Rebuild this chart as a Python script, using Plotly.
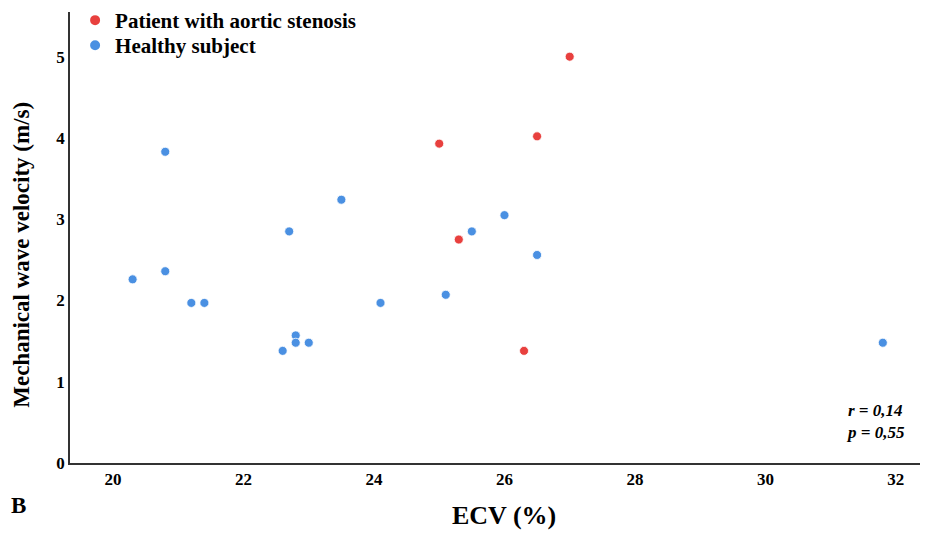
import plotly.graph_objects as go

# Patients with aortic stenosis
as_ecv = [27.0, 26.5, 25.0, 25.3, 26.3]
as_mwv = [5.0, 4.02, 3.93, 2.75, 1.38]

# Healthy subjects
hs_ecv = [20.8, 20.3, 20.8, 21.2, 21.4, 22.7, 22.6, 22.8, 22.8, 23.0, 23.5, 24.1, 25.1, 25.5, 26.0, 26.5, 31.8]
hs_mwv = [3.83, 2.26, 2.36, 1.97, 1.97, 2.85, 1.38, 1.57, 1.48, 1.48, 3.24, 1.97, 2.07, 2.85, 3.05, 2.56, 1.48]

x_ticks = [20, 22, 24, 26, 28, 30, 32]
y_ticks = [0, 1, 2, 3, 4, 5]

FONT = "Liberation Serif"
RED = "#E8403E"
BLUE = "#4A90E2"

fig = go.Figure()
fig.add_trace(go.Scatter(
    x=as_ecv, y=as_mwv, mode="markers", name="<b>Patient with aortic stenosis</b>",
    marker=dict(color=RED, size=9, line=dict(color="white", width=0.8)),
    legend="legend",
))
fig.add_trace(go.Scatter(
    x=hs_ecv, y=hs_mwv, mode="markers", name="<b>Healthy subject</b>",
    marker=dict(color=BLUE, size=9, line=dict(color="white", width=0.8)),
    legend="legend2",
))

legend_common = dict(
    xanchor="left", yanchor="top", bgcolor="rgba(0,0,0,0)",
    font=dict(family=FONT, size=21, color="black"), itemsizing="constant",
)

fig.update_layout(
    width=934, height=534,
    margin=dict(l=70, r=14, t=12, b=71, autoexpand=False),
    paper_bgcolor="white", plot_bgcolor="white",
    font=dict(family=FONT, color="black"),
    showlegend=True,
    legend=dict(x=0.006, y=1.0266, **legend_common),
    legend2=dict(x=0.006, y=0.971, **legend_common),
    xaxis=dict(
        range=[19.34, 32.37], tickvals=x_ticks,
        ticktext=[f"<b>{v}</b>" for v in x_ticks],
        showgrid=False, zeroline=False, showline=True,
        linecolor="#333333", linewidth=1.5, ticks="",
        tickfont=dict(family=FONT, size=17, color="black"),
    ),
    yaxis=dict(
        range=[0, 5.55], tickvals=y_ticks,
        ticktext=[f"<b>{v}</b>" for v in y_ticks],
        showgrid=False, zeroline=False, showline=True,
        linecolor="#333333", linewidth=1.5, ticks="",
        tickfont=dict(family=FONT, size=17, color="black"),
    ),
)

# axis titles
fig.add_annotation(
    xref="paper", yref="paper", x=0.511, y=-0.117, xanchor="center", yanchor="middle",
    text="<b>ECV (%)</b>", showarrow=False,
    font=dict(family=FONT, size=26, color="black"),
)
fig.add_annotation(
    xref="paper", yref="paper", x=-0.058, y=0.461, xanchor="center", yanchor="middle",
    text="<b>Mechanical wave velocity (m/s)</b>", showarrow=False, textangle=-90,
    font=dict(family=FONT, size=23, color="black"),
)

fig.add_annotation(
    xref="paper", yref="paper", x=0.985, y=0.091, xanchor="right", yanchor="middle",
    text="<b><i>r = 0,14</i></b><br><b><i>p = 0,55</i></b>", showarrow=False, align="left",
    font=dict(family=FONT, size=17, color="black"),
)
fig.add_annotation(
    xref="paper", yref="paper", x=-0.072, y=-0.094, xanchor="left", yanchor="middle",
    text="<b>B</b>", showarrow=False,
    font=dict(family=FONT, size=23, color="black"),
)

fig.write_html("out.html")
